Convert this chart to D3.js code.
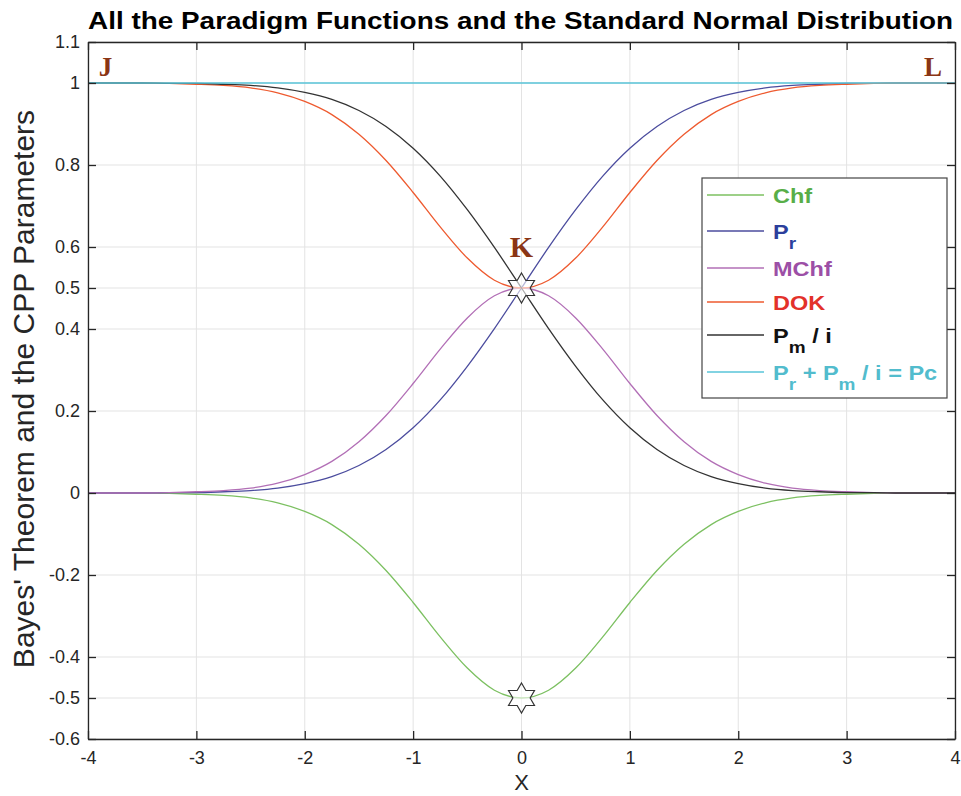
<!DOCTYPE html>
<html>
<head>
<meta charset="utf-8">
<script src="https://cdn.jsdelivr.net/npm/d3@7"></script>
<style>
  body { margin: 0; background: #fff; }
  svg { display: block; font-family: "Liberation Sans", Arial, sans-serif; }
</style>
</head>
<body>
<svg id="chart" width="961" height="796"></svg>
<script>
// x values, step 0.25 from -4 to 4
const xs = [-4, -3.75, -3.5, -3.25, -3, -2.75, -2.5, -2.25, -2, -1.75, -1.5, -1.25, -1, -0.75, -0.5, -0.25,
  0, 0.25, 0.5, 0.75, 1, 1.25, 1.5, 1.75, 2, 2.25, 2.5, 2.75, 3, 3.25, 3.5, 3.75, 4];

// values
const pr = [0.000, 0.000, 0.000, 0.001, 0.001, 0.003, 0.006, 0.012, 0.023, 0.040, 0.067, 0.106, 0.159, 0.227, 0.309, 0.401,
  0.500, 0.599, 0.691, 0.773, 0.841, 0.894, 0.933, 0.960, 0.977, 0.988, 0.994, 0.997, 0.999, 0.999, 1.000, 1.000, 1.000];
const pm = [1.000, 1.000, 1.000, 0.999, 0.999, 0.997, 0.994, 0.988, 0.977, 0.960, 0.933, 0.894, 0.841, 0.773, 0.691, 0.599,
  0.500, 0.401, 0.309, 0.227, 0.159, 0.106, 0.067, 0.040, 0.023, 0.012, 0.006, 0.003, 0.001, 0.001, 0.000, 0.000, 0.000];
const mchf = [0.000, 0.000, 0.000, 0.001, 0.003, 0.006, 0.012, 0.024, 0.045, 0.077, 0.125, 0.189, 0.267, 0.351, 0.427, 0.481,
  0.500, 0.481, 0.427, 0.351, 0.267, 0.189, 0.125, 0.077, 0.045, 0.024, 0.012, 0.006, 0.003, 0.001, 0.000, 0.000, 0.000];
const chf = [0.000, 0.000, 0.000, -0.001, -0.003, -0.006, -0.012, -0.024, -0.045, -0.077, -0.125, -0.189, -0.267, -0.351, -0.427, -0.481,
  -0.500, -0.481, -0.427, -0.351, -0.267, -0.189, -0.125, -0.077, -0.045, -0.024, -0.012, -0.006, -0.003, -0.001, 0.000, 0.000, 0.000];
const dok = [1.000, 1.000, 1.000, 0.999, 0.997, 0.994, 0.988, 0.976, 0.955, 0.923, 0.875, 0.811, 0.733, 0.649, 0.573, 0.519,
  0.500, 0.519, 0.573, 0.649, 0.733, 0.811, 0.875, 0.923, 0.955, 0.976, 0.988, 0.994, 0.997, 0.999, 1.000, 1.000, 1.000];
const pc = [1, 1, 1, 1, 1, 1, 1, 1, 1, 1, 1, 1, 1, 1, 1, 1, 1, 1, 1, 1, 1, 1, 1, 1, 1, 1, 1, 1, 1, 1, 1, 1, 1];

const xTicks = [-4, -3, -2, -1, 0, 1, 2, 3, 4];
const yTicks = [-0.6, -0.5, -0.4, -0.2, 0, 0.2, 0.4, 0.5, 0.6, 0.8, 1, 1.1];

// star markers (x, y) and point labels
const starPoints = [[0, 0.5], [0, -0.5]];
const pointLabels = [
  { t: 'J', x: -3.9, y: 1.017 },
  { t: 'K', x: 0, y: 0.576 },
  { t: 'L', x: 3.88, y: 1.017 }
];

const series = [
  { name: 'Chf', values: chf, color: '#7cc061', text: '#58ae48' },
  { name: 'Pr', values: pr, color: '#4b4c9e', text: '#2c3f9c' },
  { name: 'MChf', values: mchf, color: '#b26fb6', text: '#9c4fa6' },
  { name: 'DOK', values: dok, color: '#ee5a2f', text: '#e3312a' },
  { name: 'Pm', values: pm, color: '#333333', text: '#111111' },
  { name: 'Pc', values: pc, color: '#58c4d8', text: '#52bccd' }
];

const svg = d3.select('#chart');
const plotLeft = 88, plotRight = 955, plotTop = 42, plotBottom = 739;

const x = d3.scaleLinear().domain([-4, 4]).range([plotLeft, plotRight]);
const y = d3.scaleLinear().domain([-0.6, 1.1]).range([plotBottom, plotTop]);

// grid
const grid = svg.append('g');
grid.selectAll('.gx').data(xTicks).enter().append('line')
  .attr('x1', d => x(d)).attr('x2', d => x(d))
  .attr('y1', plotTop).attr('y2', plotBottom)
  .attr('stroke', '#e3e3e3').attr('stroke-width', 1);
grid.selectAll('.gy').data(yTicks).enter().append('line')
  .attr('x1', plotLeft).attr('x2', plotRight)
  .attr('y1', d => y(d)).attr('y2', d => y(d))
  .attr('stroke', '#e3e3e3').attr('stroke-width', 1);

// curves
const line = d3.line()
  .x((d, i) => x(xs[i]))
  .y(d => y(d))
  .curve(d3.curveMonotoneX);

svg.append('g').selectAll('path')
  .data(series).enter().append('path')
  .attr('d', d => line(d.values))
  .attr('fill', 'none')
  .attr('stroke', d => d.color)
  .attr('stroke-width', 1.3);

// axes, matlab style box with inward ticks
const fmt = d => String(d);
const axisStyle = g => {
  g.select('.domain').attr('stroke', '#262626').attr('stroke-width', 1.3);
  g.selectAll('.tick line').attr('stroke', '#262626').attr('stroke-width', 1.3);
  g.selectAll('text').attr('fill', '#262626').style('font-size', '18px');
};

svg.append('g').attr('transform', `translate(0,${plotBottom})`)
  .call(d3.axisBottom(x).tickValues(xTicks).tickFormat(fmt).tickSize(-8).tickSizeOuter(0).tickPadding(12))
  .call(axisStyle);
svg.append('g').attr('transform', `translate(0,${plotTop})`)
  .call(d3.axisTop(x).tickValues(xTicks).tickFormat('').tickSize(-8).tickSizeOuter(0))
  .call(axisStyle);
svg.append('g').attr('transform', `translate(${plotLeft},0)`)
  .call(d3.axisLeft(y).tickValues(yTicks).tickFormat(fmt).tickSize(-8).tickSizeOuter(0).tickPadding(8))
  .call(axisStyle);
svg.append('g').attr('transform', `translate(${plotRight},0)`)
  .call(d3.axisRight(y).tickValues(yTicks).tickFormat('').tickSize(-8).tickSizeOuter(0))
  .call(axisStyle);

// hexagram markers
const R = 15, r = R / Math.sqrt(3);
const starPath = d3.range(12).map(i => {
  const a = -Math.PI / 2 + i * Math.PI / 6;
  const rad = i % 2 === 0 ? R : r;
  return [rad * Math.cos(a), rad * Math.sin(a)];
});
svg.append('g').selectAll('path')
  .data(starPoints).enter().append('path')
  .attr('transform', d => `translate(${x(d[0])},${y(d[1])})`)
  .attr('d', d3.line()(starPath) + 'Z')
  .attr('fill', '#fff')
  .attr('fill-opacity', 0.6)
  .attr('stroke', '#333')
  .attr('stroke-width', 1.2);

// J K L labels
svg.append('g').selectAll('text')
  .data(pointLabels).enter().append('text')
  .attr('x', d => x(d.x))
  .attr('y', d => y(d.y))
  .attr('text-anchor', d => d.t === 'J' ? 'start' : (d.t === 'L' ? 'end' : 'middle'))
  .attr('fill', '#8a3515')
  .style('font-family', '"Liberation Serif", "DejaVu Serif", serif')
  .style('font-weight', 'bold')
  .style('font-size', d => d.t === 'K' ? '30px' : '27px')
  .text(d => d.t);

// title and axis labels
svg.append('text')
  .attr('x', plotLeft).attr('y', 29)
  .attr('textLength', plotRight - plotLeft - 2)
  .attr('lengthAdjust', 'spacingAndGlyphs')
  .style('font-weight', 'bold').style('font-size', '24px')
  .attr('fill', '#000')
  .text('All the Paradigm Functions and the Standard Normal Distribution');

svg.append('text')
  .attr('transform', `translate(34,389) rotate(-90)`)
  .attr('text-anchor', 'middle')
  .style('font-size', '30px')
  .attr('fill', '#262626')
  .text("Bayes' Theorem and the CPP Parameters");

svg.append('text')
  .attr('x', x(0)).attr('y', 790)
  .attr('text-anchor', 'middle')
  .style('font-size', '22px')
  .attr('fill', '#262626')
  .text('X');

// legend
const lg = svg.append('g');
lg.append('rect')
  .attr('x', 702).attr('y', 178).attr('width', 245).attr('height', 220)
  .attr('fill', '#fff').attr('stroke', '#444').attr('stroke-width', 1.2);

const rowY = [195, 231, 268, 302, 335, 372];
const rows = lg.selectAll('.row').data(series).enter().append('g')
  .attr('transform', (d, i) => `translate(0,${rowY[i]})`);
rows.append('line')
  .attr('x1', 707).attr('x2', 764)
  .attr('stroke', d => d.color).attr('stroke-width', 1.3);

const labelParts = {
  Chf: [['Chf', 0]],
  Pr: [['P', 0], ['r', 1]],
  MChf: [['MChf', 0]],
  DOK: [['DOK', 0]],
  Pm: [['P', 0], ['m', 1], [' / i', 0]],
  Pc: [['P', 0], ['r', 1], [' + P', 0], ['m', 1], [' / i = Pc', 0]]
};
rows.append('text')
  .attr('transform', 'translate(773,8) scale(1.12,1)')
  .attr('fill', d => d.text)
  .style('font-weight', 'bold').style('font-size', '21px')
  .each(function (d) {
    const t = d3.select(this);
    let prevSub = 0;
    labelParts[d.name].forEach(([s, sub]) => {
      t.append('tspan')
        .attr('dy', sub ? 10 : (prevSub ? -10 : 0))
        .style('font-size', sub ? '17px' : '21px')
        .text(s);
      prevSub = sub;
    });
  });
</script>
</body>
</html>
